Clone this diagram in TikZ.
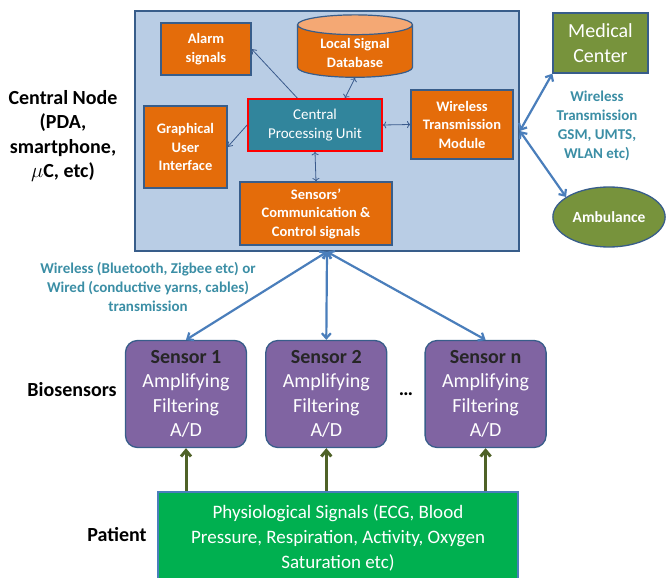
\documentclass[tikz,border=0pt]{standalone}
\usepackage{fontspec}
\setmainfont{Carlito}
\usetikzlibrary{arrows.meta,positioning,shapes.geometric,calc}

\definecolor{panelblue}{HTML}{B9CDE5}
\definecolor{frameblue}{HTML}{385D8A}
\definecolor{unitorange}{HTML}{E46C0A}
\definecolor{dbtop}{HTML}{F4A874}
\definecolor{cputeal}{HTML}{31859C}
\definecolor{linkblue}{HTML}{4A7EBB}
\definecolor{innerlink}{HTML}{3A5A8C}
\definecolor{labelteal}{HTML}{3B8EA5}
\definecolor{medgreen}{HTML}{77933C}
\definecolor{sensorpurple}{HTML}{8064A2}
\definecolor{patientgreen}{HTML}{00B050}
\definecolor{signalolive}{HTML}{4F6228}

\begin{document}
\begin{tikzpicture}[x=1pt, y=-1pt,
  panel/.style={draw=frameblue, line width=1.6pt, fill=panelblue},
  unit/.style={draw=frameblue, line width=1.2pt, fill=unitorange, text=white, align=center,
    font=\fontsize{14.5}{18.5}\selectfont\bfseries, inner sep=2pt},
  sensorbox/.style={draw=frameblue, line width=1.3pt, fill=sensorpurple, rounded corners=12pt,
    text=white, align=center, minimum width=121pt, minimum height=107pt,
    font=\fontsize{20}{24.5}\selectfont},
  sidelabel/.style={align=center, font=\fontsize{20}{24.5}\selectfont\bfseries},
  linklabel/.style={align=center, text=labelteal, font=\fontsize{15}{19}\selectfont\bfseries},
  link/.style={{Straight Barb[length=5pt,width=9pt]}-{Straight Barb[length=5pt,width=9pt]}, linkblue, line width=2.2pt},
  inner/.style={-{Straight Barb[length=4pt,width=6pt]}, innerlink, line width=0.8pt},
  signal/.style={-{Straight Barb[length=6pt,width=10pt]}, signalolive, line width=3pt}
]
\useasboundingbox (0,0) rectangle (670,578);

% central node
\node[panel, minimum width=384pt, minimum height=240pt] (central) at (327,131) {};
\node[unit, minimum width=90pt, minimum height=52pt] (alarm) at (206,49) {Alarm\\signals};
\node[cylinder, shape border rotate=90, aspect=0.26, draw=frameblue, line width=1.2pt,
  cylinder uses custom fill, cylinder body fill=unitorange, cylinder end fill=dbtop,
  minimum width=115pt, minimum height=57pt, text=white, align=center,
  font=\fontsize{14.5}{18.5}\selectfont\bfseries] (db) at (355,53) {Local Signal\\Database};
\node[unit, fill=cputeal, draw=red, line width=1.8pt, minimum width=134pt, minimum height=52pt,
  font=\fontsize{15}{19}\selectfont] (cpu) at (315,125) {Central\\Processing Unit};
\node[unit, minimum width=83pt, minimum height=82pt] (gui) at (185.5,147) {Graphical\\User\\Interface};
\node[unit, minimum width=102pt, minimum height=69pt] (wtm) at (462,124.5) {Wireless\\Transmission\\Module};
\node[unit, minimum width=152pt, minimum height=63pt] (scc) at (316,213.5) {Sensors'\\Communication \&\\Control signals};

\draw[inner] ($(cpu.north west)!0.37!(cpu.north east)$) -- (alarm.east);
\draw[inner, <->] ($(cpu.north)+(30,0)$) -- (db.south);
\draw[inner] (cpu.west) -- (gui.east);
\draw[inner, <->] (cpu.east) -- (wtm.west);
\draw[inner, <->] (cpu.south) -- (scc.north);

\node[sidelabel] (nodelabel) at (63,136) {Central Node\\(PDA,\\smartphone,\\$\mu$C, etc)};

% remote side
\node[draw=frameblue, line width=1.3pt, fill=medgreen, text=white, align=center,
  minimum width=95pt, minimum height=60pt, font=\fontsize{20}{24.5}\selectfont]
  (medical) at (600.5,43) {Medical\\Center};
\node[ellipse, draw=frameblue, line width=1.3pt, fill=medgreen, text=white,
  minimum width=112pt, minimum height=60pt, font=\fontsize{15.5}{19}\selectfont\bfseries]
  (ambulance) at (609,217) {Ambulance};
\node[linklabel] (gsmlabel) at (597,126) {Wireless\\Transmission\\GSM, UMTS,\\WLAN etc)};
\draw[link] (central.east) -- (medical.south west);
\draw[link] (central.east) -- (ambulance.155);

% biosensors
\node[sensorbox] (s1) at (186,394) {\textcolor{black!85}{\bfseries Sensor 1}\\Amplifying\\Filtering\\A/D};
\node[sensorbox, right=18pt of s1] (s2) {\textcolor{black!85}{\bfseries Sensor 2}\\Amplifying\\Filtering\\A/D};
\node[sensorbox, right=37pt of s2] (sn) {\textcolor{black!85}{\bfseries Sensor n}\\Amplifying\\Filtering\\A/D};
\node[font=\fontsize{20}{24}\selectfont\bfseries] (dots) at ($(s2.east)!0.5!(sn.west)$) {\dots};
\node[sidelabel] (biolabel) at (72,390) {Biosensors};
\node[linklabel] (bodylabel) at (148,287) {Wireless (Bluetooth, Zigbee etc) or\\Wired (conductive yarns, cables)\\transmission};

\draw[link] (central.south) -- (s1.north);
\draw[link] (central.south) -- (s2.north);
\draw[link] (central.south) -- (sn.north);

% patient
\node[draw=linkblue, line width=1.3pt, fill=patientgreen, text=white, align=center,
  minimum width=360pt, minimum height=92pt, font=\fontsize{19}{25}\selectfont]
  (patient) at (338,538) {Physiological Signals (ECG, Blood\\Pressure, Respiration, Activity, Oxygen\\Saturation etc)};
\node[sidelabel] (patientlabel) at (117,535) {Patient};

\draw[signal] (patient.north -| s1.south) -- (s1.south);
\draw[signal] (patient.north -| s2.south) -- (s2.south);
\draw[signal] (patient.north -| sn.south) -- (sn.south);

\end{tikzpicture}
\end{document}
